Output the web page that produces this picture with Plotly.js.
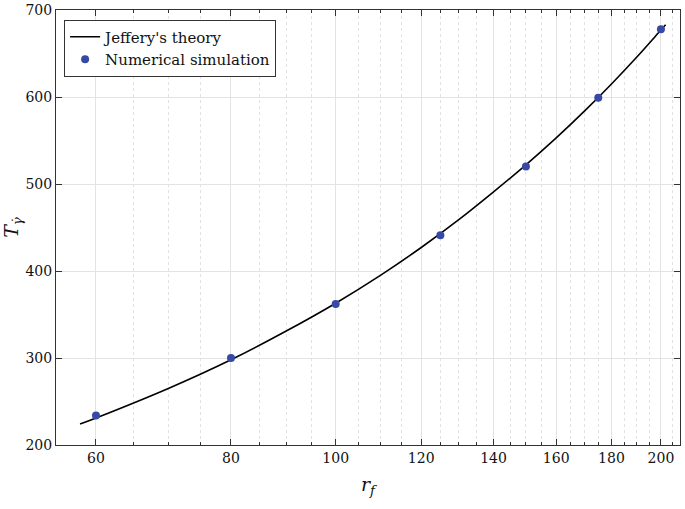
<!DOCTYPE html>
<html>
<head>
<meta charset="utf-8">
<script src="https://cdn.plot.ly/plotly-3.0.1.min.js"></script>
<style>
  html, body { margin: 0; padding: 0; background: #fff; }
  #plot { width: 685px; height: 509px; }
</style>
</head>
<body>
<div id="plot"></div>
<script>
// Jeffery's theory curve
var theoryR = [58, 60, 70, 80, 90, 100, 110, 120, 130, 140, 150, 160, 170, 180, 190, 200, 202];
var theoryT = [224, 231, 265, 298, 331, 363, 395, 427, 459, 491, 522, 553, 584, 615, 646, 677, 683];

// numerical simulation points
var simR = [60, 80, 100, 125, 150, 175, 200];
var simT = [234, 300, 362, 441, 520, 599, 678];

var majorTicks = [60, 80, 100, 120, 140, 160, 180, 200];
var minorTicks = [];
for (var v = 55; v <= 205; v += 5) {
  if (majorTicks.indexOf(v) < 0) minorTicks.push(v);
}

var fam = 'DejaVu Serif, Liberation Serif, serif';

var theory = {
  x: theoryR, y: theoryT,
  mode: 'lines', type: 'scatter',
  name: "Jeffery's theory",
  line: {color: '#000', width: 1.6, shape: 'spline'}
};

var sim = {
  x: simR, y: simT,
  mode: 'markers', type: 'scatter',
  name: 'Numerical simulation',
  marker: {color: '#3549a5', size: 8}
};

var layout = {
  width: 685, height: 509,
  margin: {l: 56, r: 5, t: 10, b: 64},
  paper_bgcolor: '#fff', plot_bgcolor: '#fff',
  font: {family: fam, size: 14, color: '#111'},
  showlegend: true,
  legend: {
    x: 0.013, y: 0.978, xanchor: 'left', yanchor: 'top',
    bgcolor: '#fff', bordercolor: '#333', borderwidth: 1,
    font: {family: fam, size: 15, color: '#111'},
    tracegroupgap: 0
  },
  xaxis: {
    type: 'log',
    range: [Math.log10(55.1), Math.log10(208.3)],
    tickmode: 'array', tickvals: majorTicks, ticktext: majorTicks.map(String),
    ticks: 'inside', ticklen: 6, tickcolor: '#333',
    showline: true, linecolor: '#333', linewidth: 1, mirror: 'ticks',
    showgrid: true, gridcolor: '#e3e3e3', gridwidth: 1,
    zeroline: false,
    minor: {
      tickmode: 'array', tickvals: minorTicks,
      ticks: 'inside', ticklen: 3, tickcolor: '#333',
      showgrid: true, gridcolor: '#e2e2e2', griddash: 'dot', gridwidth: 1
    },
    title: {text: '<i>r</i><sub><i>f</i></sub>', font: {family: fam, size: 19}, standoff: 12},
    tickfont: {family: fam, size: 14}
  },
  yaxis: {
    range: [200, 700],
    tickmode: 'array', tickvals: [200, 300, 400, 500, 600, 700],
    ticks: 'inside', ticklen: 6, tickcolor: '#333',
    showline: true, linecolor: '#333', linewidth: 1, mirror: 'ticks',
    showgrid: true, gridcolor: '#e3e3e3', gridwidth: 1,
    zeroline: false,
    title: {text: '<i>T</i><sub><i>γ̇</i></sub>', font: {family: fam, size: 19}, standoff: 6},
    tickfont: {family: fam, size: 14}
  }
};

Plotly.newPlot('plot', [theory, sim], layout, {displayModeBar: false, staticPlot: true});
</script>
</body>
</html>
